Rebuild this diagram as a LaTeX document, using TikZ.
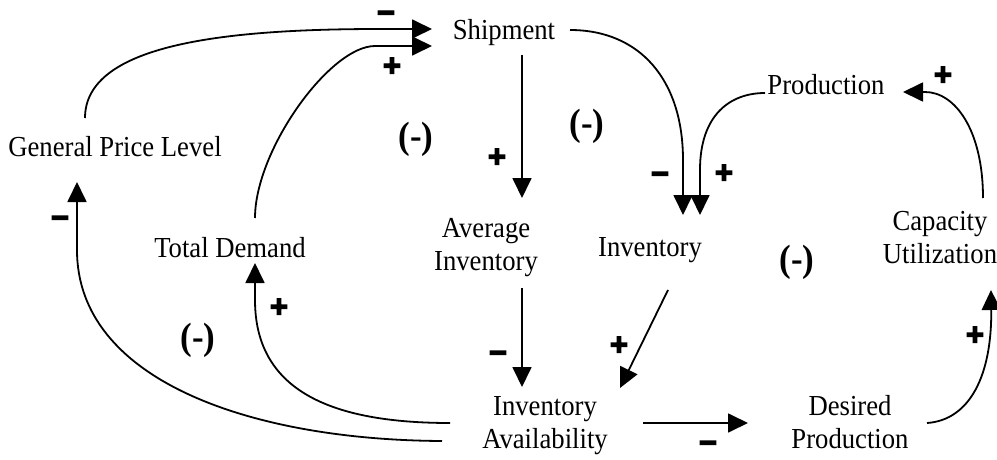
\documentclass[tikz,border=0pt]{standalone}
\usepackage{fontspec}
\setmainfont{Liberation Serif}[FakeStretch=0.92]
\newfontfamily\signfont{Liberation Sans Bold}[FakeBold=4]
\usetikzlibrary{arrows.meta,calc}
\begin{document}
\begin{tikzpicture}[x=1pt,y=-1pt,
  lbl/.style={font=\fontsize{29}{33}\selectfont, inner sep=0pt, anchor=base, align=center},
  loopmark/.style={font=\fontsize{38}{42}\selectfont\bfseries, inner sep=0pt},
  sgn/.style={font=\signfont\fontsize{31}{33}\selectfont, inner sep=0pt, anchor=base},
  arr/.style={line width=1.8pt, -{Triangle[length=20pt,width=19pt]}}]
\useasboundingbox[fill=white] (0,0) rectangle (997,460);

% variables (base = baseline of the last line)
\node[lbl] (ship) at (504,40) {Shipment};
\node[lbl] (gpl) at (115,157) {General Price Level};
\node[lbl] (td) at (230,257) {Total Demand};
\node[lbl] (avg) at (486,270) {Average\\Inventory};
\node[lbl] (inv) at (650,256) {Inventory};
\node[lbl] (prod) at (826,95) {Production};
\node[lbl] (cap) at (940,263) {Capacity\\Utilization};
\node[lbl] (ia) at (545,448) {Inventory\\Availability};
\node[lbl] (dp) at (850,448) {Desired\\Production};

% loop markers
\node[loopmark] (l1) at (416,139) {(-)};
\node[loopmark] (l2) at (587,126) {(-)};
\node[loopmark] (l3) at (797,262) {(-)};
\node[loopmark] (l4) at (198,340) {(-)};

% connectors
\draw[arr] ($(gpl.base)+(-30,-39)$) .. controls +(0,-75) and +(-150,0) .. ($(ship.base)+(-124,-11)$) -- ($(ship.base)+(-72,-11)$);
\draw[arr] ($(td.base)+(25,-39)$) .. controls +(0,-68) and +(-45,0) .. ($(ship.base)+(-129,6)$) -- ($(ship.base)+(-72,6)$);
\draw[arr] ($(ship.base)+(18,15)$) -- ($(avg.base)+(36,-72)$);
\draw[arr] ($(ship.base)+(66,-10)$) .. controls +(70,0) and +(0,-80) .. ($(inv.base)+(33,-96)$) -- ($(inv.base)+(33,-41)$);
\draw[arr] ($(prod.base)+(-61,-2)$) .. controls +(-35,0) and +(0,-55) .. ($(inv.base)+(50,-86)$) -- ($(inv.base)+(50,-41)$);
\draw[arr] ($(cap.base)+(43,-65)$) .. controls +(0,-68) and +(30,0) .. ($(prod.base)+(99,-3)$) -- ($(prod.base)+(77,-3)$);
\draw[arr] ($(avg.base)+(36,18)$) -- ($(ia.base)+(-23,-61)$);
\draw[arr] ($(inv.base)+(18,34)$) -- ($(ia.base)+(75,-60)$);
\draw[arr] ($(ia.base)+(98,-25)$) -- ($(dp.base)+(-102,-25)$);
\draw[arr] ($(dp.base)+(77,-25)$) .. controls +(43,-3) and +(1,85) .. ($(cap.base)+(51,27)$);
\draw[arr] ($(ia.base)+(-95,-25)$) .. controls +(-120,0) and +(0,90) .. ($(td.base)+(25,43)$) -- ($(td.base)+(25,6)$);
\draw[arr] ($(ia.base)+(-103,-7)$) .. controls +(-192,-1) and +(0,130) .. ($(gpl.base)+(-38,93)$) -- ($(gpl.base)+(-38,25)$);

% polarity signs
\node[sgn] (m1) at (386,23) {−};
\node[sgn] (p1) at (392,76) {+};
\node[sgn] (p2) at (497,167) {+};
\node[sgn] (m2) at (660,184) {−};
\node[sgn] (p3) at (724,183) {+};
\node[sgn] (p4) at (943,85) {+};
\node[sgn] (m3) at (60,228) {−};
\node[sgn] (p5) at (279,317) {+};
\node[sgn] (m4) at (498,363) {−};
\node[sgn] (p6) at (619,355) {+};
\node[sgn] (m5) at (708,453) {−};
\node[sgn] (p7) at (975,345) {+};
\end{tikzpicture}
\end{document}
